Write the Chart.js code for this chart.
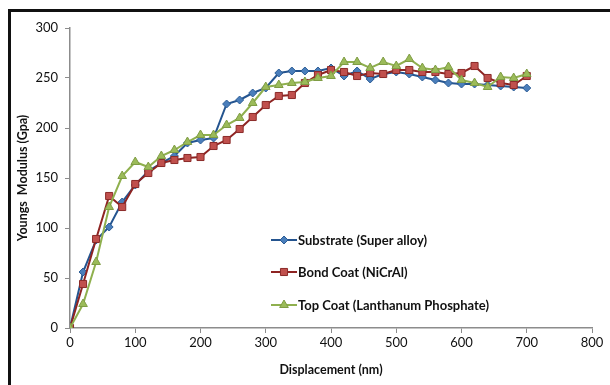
<!DOCTYPE html>
<html>
<head>
<meta charset="utf-8">
<script src="https://cdn.jsdelivr.net/npm/chart.js@4/dist/chart.umd.min.js"></script>
<style>
  html, body { margin: 0; padding: 0; background: #fff; }
  #wrap { position: relative; width: 610px; height: 385px; overflow: hidden; }
  #frame { position: absolute; left: 8px; top: 9px; width: 599px; height: 400px;
           border: 3px solid #111; pointer-events: none; }
</style>
</head>
<body>
<div id="wrap">
  <canvas id="chart" width="610" height="385"></canvas>
  <div id="frame"></div>
</div>
<script>
'use strict';

const displacement = [0, 20, 40, 60, 80, 100, 120, 140, 160, 180, 200, 220, 240, 260, 280, 300,
                      320, 340, 360, 380, 400, 420, 440, 460, 480, 500, 520, 540, 560, 580, 600,
                      620, 640, 660, 680, 700];

const substrate = [0, 56, 88, 101, 126, 143, 157, 165, 172, 185, 188, 190, 224, 228, 235, 240,
                   255, 257, 257, 257, 260, 252, 257, 249, 254, 256, 254, 251, 248, 245, 244,
                   244, 243, 242, 241, 240];

const bondCoat = [0, 44, 89, 132, 121, 144, 155, 165, 168, 170, 171, 182, 188, 199, 211, 223,
                  232, 233, 245, 253, 258, 256, 252, 255, 254, 258, 258, 256, 256, 254, 255,
                  262, 250, 245, 243, 252];

const topCoat = [0, 24, 66, 121, 152, 166, 161, 172, 178, 186, 193, 193, 203, 210, 225, 241,
                 243, 245, 246, 250, 252, 266, 266, 260, 266, 262, 269, 260, 258, 261, 248,
                 245, 241, 251, 250, 254];

const seriesNames = ['Substrate (Super alloy)', 'Bond Coat (NiCrAl)', 'Top Coat (Lanthanum Phosphate)'];
const xTicks = [0, 100, 200, 300, 400, 500, 600, 700, 800];
const yTicks = [0, 50, 100, 150, 200, 250, 300];

const FONT = 'Lato, "Open Sans", sans-serif';
const AXIS = '#8c8c8c';

const toPts = (ys) => ys.map((y, i) => ({ x: displacement[i], y: y }));

const styles = [
    { line: '#24548f', fill: '#4a7ebb', border: '#2c5d96', pt: 'rectRot', r: 4 },
    { line: '#8e2422', fill: '#c0504d', border: '#8b2b29', pt: 'rect',    r: 5 },
    { line: '#8fb04e', fill: '#9bbb59', border: '#7f9c44', pt: 'triangle', r: 5 }
];

const makeSet = (label, ys, s, order) => ({
    label, data: toPts(ys), order,
    borderColor: s.line, borderWidth: 2,
    pointStyle: s.pt, pointRadius: s.r,
    pointBackgroundColor: s.fill, pointBorderColor: s.border, pointBorderWidth: 1,
    tension: 0
});

// legend sits inside the plot, drawn by hand
const innerLegend = {
    id: 'innerLegend',
    afterDraw(chart) {
        const ctx = chart.ctx;
        const rows = [240, 272, 305];
        ctx.save();
        rows.forEach((y, i) => {
            const s = styles[i];
            ctx.strokeStyle = s.line;
            ctx.lineWidth = 2;
            ctx.beginPath();
            ctx.moveTo(271, y); ctx.lineTo(297, y);
            ctx.stroke();
            ctx.fillStyle = s.fill;
            ctx.strokeStyle = s.border;
            ctx.lineWidth = 1;
            Chart.helpers.drawPoint(ctx, { pointStyle: s.pt, radius: s.r, borderWidth: 1 }, 284, y);
            ctx.fillStyle = '#111';
            ctx.font = 'bold 13px ' + FONT;
            ctx.textBaseline = 'middle';
            ctx.fillText(seriesNames[i], 298, y + 1);
        });
        ctx.restore();
    }
};

new Chart(document.getElementById('chart').getContext('2d'), {
    type: 'line',
    data: { datasets: [
        makeSet(seriesNames[0], substrate, styles[0], 3),
        makeSet(seriesNames[1], bondCoat, styles[1], 2),
        makeSet(seriesNames[2], topCoat, styles[2], 1)
    ] },
    options: {
        animation: false,
        responsive: false,
        layout: { padding: { left: 0, top: 28, right: 18, bottom: 0 } },
        plugins: { legend: { display: false }, tooltip: { enabled: false } },
        scales: {
            x: {
                type: 'linear', min: 0, max: 800,
                afterBuildTicks: (sc) => { sc.ticks = xTicks.map(v => ({ value: v })); },
                afterFit: (sc) => { sc.height = 57; },
                ticks: { color: '#111', font: { family: FONT, size: 13 }, padding: 2, maxRotation: 0 },
                grid: { drawOnChartArea: false, drawTicks: true, tickLength: 5, color: AXIS },
                border: { color: AXIS, width: 1.5 },
                title: { display: true, text: 'Displacement (nm)', color: '#111',
                         font: { family: FONT, size: 12.5, weight: 'bold' }, padding: { top: 2, bottom: 8 } }
            },
            y: {
                min: 0, max: 300,
                afterBuildTicks: (sc) => { sc.ticks = yTicks.map(v => ({ value: v })); },
                afterFit: (sc) => { sc.width = 70; },
                ticks: { color: '#111', font: { family: FONT, size: 13 }, padding: 7 },
                grid: { drawOnChartArea: false, drawTicks: true, tickLength: 5, color: AXIS },
                border: { color: AXIS, width: 1.5 },
                title: { display: true, text: 'Youngs  Modulus (Gpa)', color: '#111',
                         font: { family: FONT, size: 12.5, weight: 'bold' }, padding: { top: 15, bottom: 2 } }
            }
        }
    },
    plugins: [innerLegend]
});
</script>
</body>
</html>
